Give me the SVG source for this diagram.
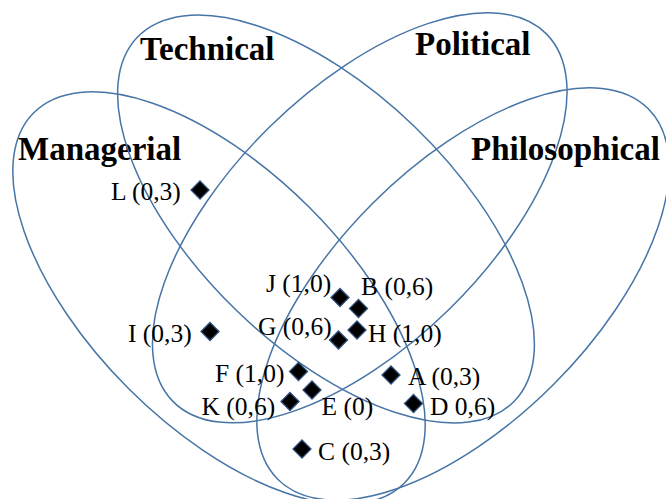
<svg xmlns="http://www.w3.org/2000/svg" width="666" height="499" viewBox="0 0 666 499">
<style>
.set{fill:none;stroke:#4675a6;stroke-width:1.5}
.title{font-family:"Liberation Serif","Times New Roman",serif;font-weight:bold;font-size:33px;fill:#000}
.lbl{font-family:"Liberation Serif","Times New Roman",serif;font-size:25.5px;fill:#000}
.dia{fill:#000;stroke:#2b4d78;stroke-width:1.3;stroke-linejoin:miter}
</style>
<defs>
<path id="d" d="M0,-9 L9,0 L0,9 L-9,0 Z"/>
</defs>
<rect width="666" height="499" fill="#fff"/>
<g id="set-managerial">
<ellipse class="set" cx="219" cy="298" rx="262" ry="128" transform="rotate(45 219 298)"/>
<text class="title" x="18" y="160">Managerial</text>
</g>
<g id="set-technical">
<ellipse class="set" cx="326" cy="219" rx="262" ry="128" transform="rotate(44 326 219)"/>
<text class="title" x="140" y="60">Technical</text>
</g>
<g id="set-political">
<ellipse class="set" cx="359.75" cy="217.75" rx="262" ry="128" transform="rotate(-44.5 359.75 217.75)"/>
<text class="title" x="415" y="55">Political</text>
</g>
<g id="set-philosophical">
<ellipse class="set" cx="463" cy="294" rx="262" ry="128" transform="rotate(-45 463 294)"/>
<text class="title" x="471" y="160">Philosophical</text>
</g>
<g id="connectors"></g>
<g id="node-L"><use href="#d" class="dia" x="200" y="190"/><text class="lbl" x="111" y="200">L (0,3)</text></g>
<g id="node-I"><use href="#d" class="dia" x="210" y="331.5"/><text class="lbl" x="128" y="341.5">I (0,3)</text></g>
<g id="node-J"><use href="#d" class="dia" x="340" y="297.5"/><text class="lbl" x="266" y="291.5">J (1,0)</text></g>
<g id="node-B"><use href="#d" class="dia" x="358.5" y="308.5"/><text class="lbl" x="361" y="295">B (0,6)</text></g>
<g id="node-H"><use href="#d" class="dia" x="357" y="330"/><text class="lbl" x="368" y="341.5">H (1,0)</text></g>
<g id="node-G"><use href="#d" class="dia" x="338.5" y="340"/><text class="lbl" x="258" y="335">G (0,6)</text></g>
<g id="node-F"><use href="#d" class="dia" x="298.5" y="371.5"/><text class="lbl" x="215" y="381.5">F (1,0)</text></g>
<g id="node-E"><use href="#d" class="dia" x="312" y="390"/><text class="lbl" x="321.5" y="415">E (0)</text></g>
<g id="node-K"><use href="#d" class="dia" x="290" y="401.5"/><text class="lbl" x="201.5" y="415">K (0,6)</text></g>
<g id="node-C"><use href="#d" class="dia" x="302" y="449"/><text class="lbl" x="318" y="460">C (0,3)</text></g>
<g id="node-A"><use href="#d" class="dia" x="391" y="375"/><text class="lbl" x="408" y="385">A (0,3)</text></g>
<g id="node-D"><use href="#d" class="dia" x="413.5" y="403.5"/><text class="lbl" x="430" y="415">D 0,6)</text></g>
</svg>
